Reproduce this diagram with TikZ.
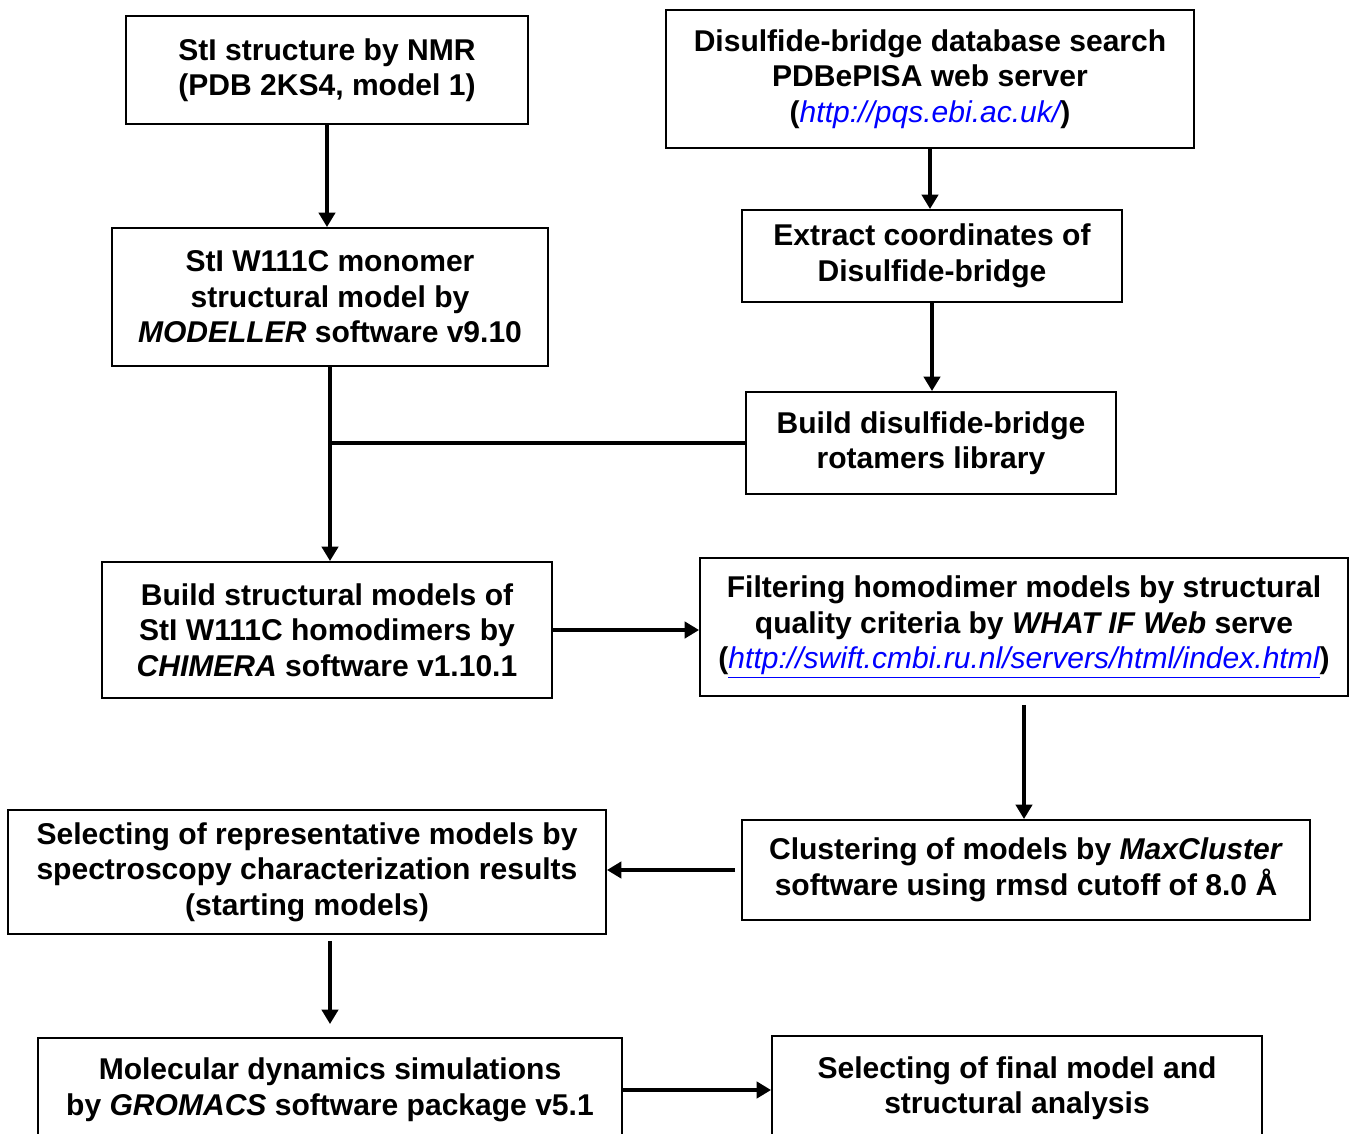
\documentclass[tikz,border=0pt]{standalone}
\usepackage{fontspec}
\setmainfont{Liberation Sans}
\usepackage{tikz}
\usetikzlibrary{positioning,arrows.meta,calc}
\definecolor{linkblue}{RGB}{0,0,255}
\newcommand{\weblink}[1]{\textcolor{linkblue}{\mdseries\itshape #1}}

\begin{document}
\begin{tikzpicture}[x=0.02cm,y=-0.02cm,
  font=\bfseries\fontsize{17.1}{20.2}\selectfont,
  box/.style={draw,line width=1.1pt,align=center,inner sep=0pt},
  arr/.style={-{Triangle[length=8.2pt,width=9.2pt]},line width=2.4pt},
  link/.style={line width=2.4pt}]
\useasboundingbox (0,0) rectangle (1349,1133);
\clip (0,0) rectangle (1349,1133);
\node[box,minimum width=8.04cm,minimum height=2.16cm] (nmr) at (327,70)
  {StI structure by NMR\\(PDB 2KS4, model 1)};
\node[box,minimum width=10.56cm,minimum height=2.76cm] (pisa) at (930,79)
  {Disulfide-bridge database search\\PDBePISA web server\\(\weblink{http://pqs.ebi.ac.uk/})};
\node[box,minimum width=8.72cm,minimum height=2.76cm] (mono) at (330,297)
  {StI W111C monomer\\structural model by\\\textit{MODELLER} software v9.10};
\node[box,minimum width=7.6cm,minimum height=1.84cm] (extract) at (932,256)
  {Extract coordinates of\\Disulfide-bridge};
\node[box,minimum width=7.4cm,minimum height=2.04cm] (rotlib) at (931,443)
  {Build disulfide-bridge\\rotamers library};
\node[box,minimum width=9.0cm,minimum height=2.72cm] (homo) at (327,630)
  {Build structural models of\\StI W111C homodimers by\\\textit{CHIMERA} software v1.10.1};
\node[box,minimum width=12.96cm,minimum height=2.76cm] (whatif) at (1024,627)
  {Filtering homodimer models by structural\\quality criteria by \textit{WHAT IF Web} serve\\(\weblink{\underline{http://swift.cmbi.ru.nl/servers/html/index.html}})};
\node[box,minimum width=11.36cm,minimum height=2.0cm] (cluster) at (1026,870)
  {Clustering of models by \textit{MaxCluster}\\software using rmsd cutoff of 8.0 Å};
\node[box,minimum width=11.96cm,minimum height=2.48cm] (start) at (307,872)
  {Selecting of representative models by\\spectroscopy characterization results\\(starting models)};
\node[box,minimum width=11.68cm,minimum height=2.08cm] (md) at (330,1090)
  {Molecular dynamics simulations\\by \textit{GROMACS} software package v5.1};
\node[box,minimum width=9.8cm,minimum height=2.08cm] (final) at (1017,1088)
  {Selecting of final model and\\structural analysis};
% connectors
\coordinate (join) at (mono.south |- rotlib.west);
\coordinate (startout) at ([xshift=0.46cm]start.south);
\coordinate (mdin) at (startout |- md.north);
\draw[arr] (nmr.south) -- (nmr.south |- mono.north);
\draw[arr] (pisa.south) -- (pisa.south |- extract.north);
\draw[arr] (extract.south) -- (extract.south |- rotlib.north);
\draw[arr] (mono.south) -- (mono.south |- homo.north);
\draw[link] (rotlib.west) -- (join);
\draw[arr] (homo.east) -- (homo.east -| whatif.west);
\draw[arr,shorten <=0.16cm] (whatif.south) -- (whatif.south |- cluster.north);
\draw[arr,shorten <=0.12cm] (cluster.west) -- (cluster.west -| start.east);
\draw[arr,shorten <=0.12cm,shorten >=0.26cm] (startout) -- (mdin);
\draw[arr] (md.east) -- (md.east -| final.west);
\end{tikzpicture}
\end{document}
